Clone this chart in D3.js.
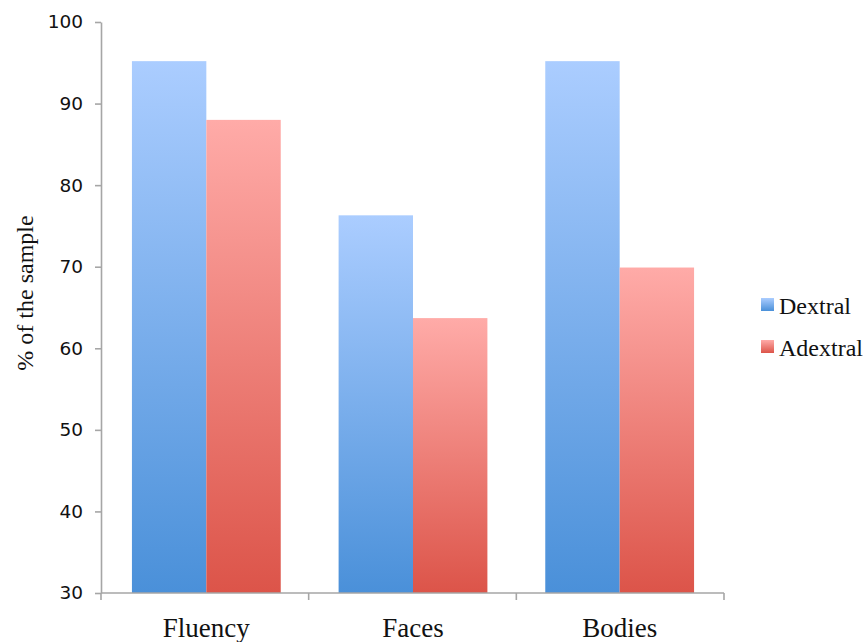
<!DOCTYPE html>
<html>
<head>
<meta charset="utf-8">
<script src="https://cdn.jsdelivr.net/npm/d3@7"></script>
<style>
  html, body { margin: 0; padding: 0; background: #fff; }
  svg { display: block; }
</style>
</head>
<body>
<svg id="chart" width="865" height="642"></svg>
<script>
const categories = ["Fluency", "Faces", "Bodies"];
const seriesNames = ["Dextral", "Adextral"];
const dextral = [95.2, 76.3, 95.2];
const adextral = [88.0, 63.7, 69.9];
const yTicks = [30, 40, 50, 60, 70, 80, 90, 100];
const yLabel = "% of the sample";

(function () {
const svg = d3.select("#chart");
const pLeft = 101, pRight = 724, pTop = 22, pBottom = 593;

const x = d3.scaleBand().domain(categories).range([pLeft + 2, pRight - 1]).paddingInner(0.28).paddingOuter(0.14);
const xs = d3.scaleBand().domain(seriesNames).range([0, x.bandwidth()]);
const y = d3.scaleLinear().domain([30, 100]).range([pBottom, pTop]);

const defs = svg.append("defs");
const grads = {
  Dextral: ["#abcdff", "#4a90d9"],
  Adextral: ["#ffaba8", "#dc5449"]
};
Object.entries(grads).forEach(([k, c]) => {
  const g = defs.append("linearGradient").attr("id", "g" + k)
    .attr("x1", 0).attr("y1", 0).attr("x2", 0).attr("y2", 1);
  g.append("stop").attr("offset", "0%").attr("stop-color", c[0]);
  g.append("stop").attr("offset", "100%").attr("stop-color", c[1]);
});

const data = categories.map((c, i) => ({cat: c, vals: [
  {s: "Dextral", v: dextral[i]}, {s: "Adextral", v: adextral[i]}]}));

const groups = svg.append("g").selectAll("g").data(data).join("g")
  .attr("transform", d => `translate(${x(d.cat)},0)`);
groups.selectAll("rect").data(d => d.vals).join("rect")
  .attr("x", d => xs(d.s))
  .attr("width", xs.bandwidth())
  .attr("y", d => y(d.v))
  .attr("height", d => y(30) - y(d.v))
  .attr("fill", d => `url(#g${d.s})`);

const axisColor = "#a6a6a6";
// Y axis
const yAxis = svg.append("g").attr("transform", `translate(${pLeft},0)`)
  .call(d3.axisLeft(y).tickValues(yTicks).tickSize(6).tickPadding(12).tickSizeOuter(0));
yAxis.select(".domain").attr("stroke", axisColor).attr("stroke-width", 1.6);
yAxis.selectAll(".tick line").attr("stroke", axisColor).attr("stroke-width", 1.6);
yAxis.selectAll(".tick text").attr("fill", "#111")
  .style("font-family", "'DejaVu Sans', sans-serif").style("font-size", "18.5px");

// X axis
const xAxis = svg.append("g").attr("transform", `translate(0,${pBottom})`);
xAxis.append("line").attr("x1", pLeft).attr("x2", pRight).attr("y1", 0).attr("y2", 0)
  .attr("stroke", axisColor).attr("stroke-width", 1.6);
const edges = d3.range(categories.length + 1).map(i => pLeft + i * (pRight - pLeft) / categories.length);
xAxis.selectAll("line.tk").data(edges).join("line").attr("class", "tk")
  .attr("x1", d => d).attr("x2", d => d).attr("y1", 0).attr("y2", 7)
  .attr("stroke", axisColor).attr("stroke-width", 1.6);
xAxis.selectAll("text").data(categories).join("text")
  .attr("x", d => x(d) + x.bandwidth() / 2).attr("y", 44)
  .attr("text-anchor", "middle").attr("fill", "#111")
  .style("font-family", "'Liberation Serif', serif").style("font-size", "27px")
  .text(d => d);

// Y label
svg.append("text").attr("transform", `translate(33,293) rotate(-90)`)
  .attr("text-anchor", "middle").attr("fill", "#111")
  .style("font-family", "'Liberation Serif', serif").style("font-size", "24px")
  .text(yLabel);

// Legend
const legend = svg.append("g").attr("transform", "translate(761,298)");
const li = legend.selectAll("g").data(seriesNames).join("g")
  .attr("transform", (d, i) => `translate(0,${i * 42})`);
li.append("rect").attr("width", 13).attr("height", 13).attr("fill", d => `url(#g${d})`);
li.append("text").attr("x", 18).attr("y", 16).attr("fill", "#111")
  .style("font-family", "'Liberation Serif', serif").style("font-size", "24px")
  .text(d => d);
})();
</script>
</body>
</html>
